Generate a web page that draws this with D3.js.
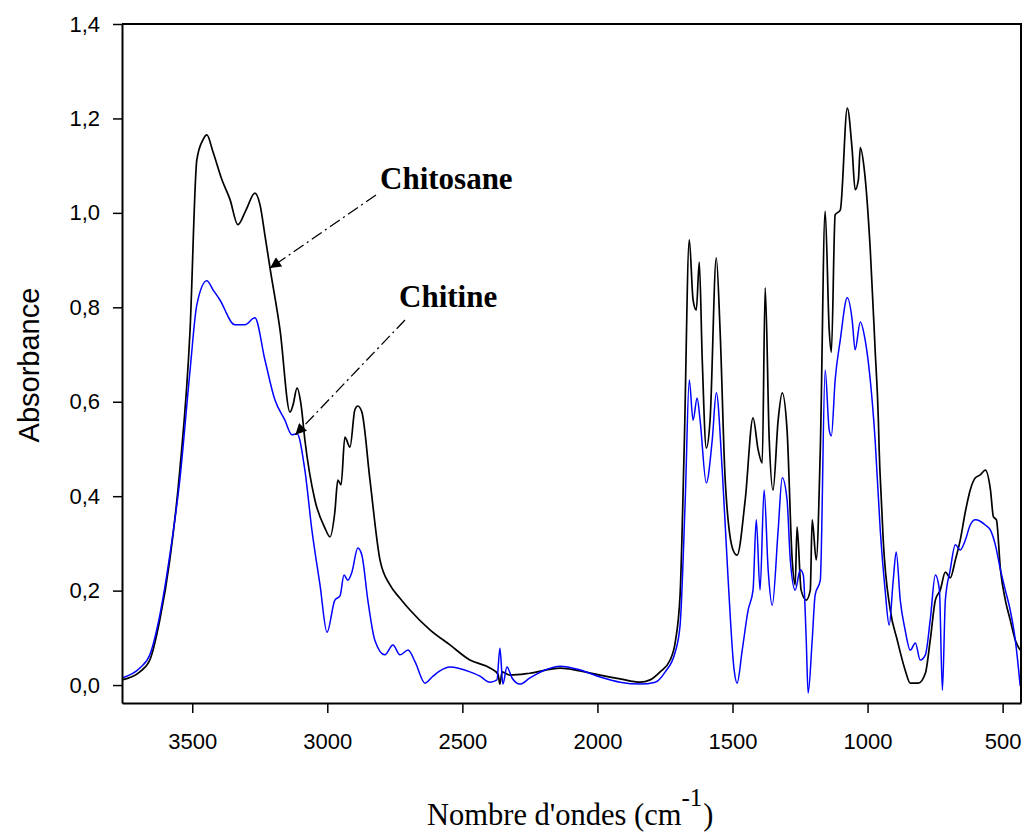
<!DOCTYPE html>
<html>
<head>
<meta charset="utf-8">
<script src="https://cdn.jsdelivr.net/npm/d3@7"></script>
<style>
  html, body { margin: 0; padding: 0; background: #fff; }
  svg { display: block; }
</style>
</head>
<body>
<svg id="chart" width="1027" height="832"></svg>
<script>
// FTIR spectra: wavenumber (cm-1) and absorbance for each sample
const chitosaneWavenumber = [3760,3694,3657,3620,3583,3546,3508,3483,3460,3446,3423,3390,3360,3331,3301,3268,3249,3231,3212,3175,3138,3127,3112,3097,3083,3046,3009,2990,2972,2961,2949,2935,2916,2898,2887,2872,2842,2805,2768,2731,2694,2620,2546,2472,2398,2368,2361,2353,2324,2250,2138,2064,1990,1916,1842,1805,1768,1731,1712,1694,1679,1660,1646,1634,1623,1612,1597,1583,1560,1546,1527,1498,1483,1453,1424,1405,1390,1379,1364,1350,1331,1316,1298,1279,1268,1261,1246,1227,1212,1205,1190,1175,1157,1142,1134,1120,1101,1075,1057,1046,1034,1027,1012,990,972,960,957,949,942,916,890,861,842,812,786,768,749,731,712,694,675,657,638,620,601,583,564,545,534,523,508,490,472,453,435];
const chitosaneAbsorbance = [0.011,0.028,0.053,0.138,0.265,0.455,0.752,1.112,1.155,1.165,1.129,1.07,1.028,0.975,1.006,1.042,1.017,0.953,0.883,0.752,0.578,0.593,0.629,0.593,0.519,0.392,0.333,0.314,0.367,0.434,0.424,0.525,0.504,0.583,0.591,0.578,0.434,0.265,0.212,0.184,0.159,0.117,0.085,0.053,0.036,0.023,0.002,0.028,0.021,0.025,0.036,0.03,0.021,0.013,0.006,0.011,0.028,0.053,0.091,0.191,0.498,0.943,0.816,0.794,0.896,0.689,0.502,0.561,0.905,0.752,0.434,0.286,0.275,0.392,0.566,0.498,0.47,0.841,0.519,0.413,0.561,0.619,0.54,0.265,0.212,0.335,0.201,0.18,0.201,0.35,0.265,0.498,1.004,0.752,0.705,0.996,1.006,1.222,1.133,1.049,1.07,1.138,1.091,0.922,0.71,0.561,0.498,0.392,0.307,0.159,0.095,0.032,0.004,0.004,0.025,0.095,0.18,0.201,0.239,0.227,0.265,0.307,0.367,0.413,0.439,0.445,0.455,0.413,0.356,0.35,0.244,0.18,0.138,0.095,0.074];

const chitineWavenumber = [3760,3694,3657,3620,3583,3546,3508,3483,3446,3423,3398,3342,3305,3268,3231,3194,3157,3131,3112,3083,3057,3027,3001,2972,2953,2938,2924,2909,2887,2872,2850,2824,2787,2757,2731,2701,2675,2638,2612,2583,2546,2472,2435,2398,2372,2361,2350,2335,2316,2287,2250,2194,2138,2064,1990,1916,1842,1786,1749,1712,1694,1675,1660,1646,1631,1620,1597,1575,1560,1538,1516,1494,1483,1464,1442,1424,1412,1398,1383,1368,1353,1331,1316,1298,1286,1268,1249,1238,1227,1220,1205,1194,1175,1157,1142,1134,1120,1101,1075,1057,1046,1027,1009,990,972,953,935,920,905,894,879,861,842,823,805,786,768,749,734,723,712,694,675,657,638,620,601,583,564,545,527,508,490,472,453,435];
const chitineAbsorbance = [0.015,0.036,0.064,0.148,0.275,0.434,0.667,0.805,0.856,0.837,0.816,0.763,0.763,0.778,0.689,0.604,0.561,0.53,0.532,0.455,0.328,0.212,0.112,0.18,0.189,0.233,0.222,0.239,0.29,0.275,0.18,0.095,0.064,0.085,0.064,0.074,0.049,0.004,0.017,0.03,0.038,0.028,0.019,0.006,0.011,0.078,0.002,0.038,0.015,0.002,0.015,0.032,0.04,0.032,0.017,0.006,0.002,0.006,0.028,0.07,0.127,0.392,0.646,0.561,0.608,0.561,0.428,0.519,0.619,0.455,0.222,0.032,0.004,0.074,0.159,0.201,0.35,0.201,0.413,0.244,0.169,0.328,0.439,0.392,0.265,0.201,0.244,0.233,0.095,-0.017,0.095,0.191,0.222,0.667,0.54,0.528,0.646,0.731,0.82,0.773,0.71,0.769,0.731,0.646,0.519,0.328,0.201,0.127,0.222,0.282,0.18,0.117,0.074,0.089,0.053,0.064,0.138,0.233,0.201,-0.011,0.18,0.244,0.297,0.286,0.307,0.339,0.35,0.347,0.339,0.328,0.297,0.244,0.201,0.159,0.095,-0.002];

const xTickValues = [3500, 3000, 2500, 2000, 1500, 1000, 500];
const yTickValues = [0, 0.2, 0.4, 0.6, 0.8, 1.0, 1.2, 1.4];

const series = [
  { name: "Chitosane", wn: chitosaneWavenumber, abs: chitosaneAbsorbance, color: "#000000", width: 1.7 },
  { name: "Chitine", wn: chitineWavenumber, abs: chitineAbsorbance, color: "#0000ff", width: 1.5 }
];

const svg = d3.select("#chart");
const plotLeft = 122, plotRight = 1021, plotTop = 24, plotBottom = 703;

const x = d3.scaleLinear().domain([3760, 432]).range([plotLeft, plotRight]);
const y = d3.scaleLinear().domain([-0.038, 1.4]).range([plotBottom, plotTop]);

const defs = svg.append("defs");
defs.append("clipPath").attr("id", "plot-clip")
  .append("rect").attr("x", plotLeft).attr("y", plotTop)
  .attr("width", plotRight - plotLeft).attr("height", plotBottom - plotTop);

// spectra
const line = d3.line().x(d => x(d[0])).y(d => y(d[1])).curve(d3.curveMonotoneX);
const plot = svg.append("g").attr("clip-path", "url(#plot-clip)");
series.forEach(s => {
  const pts = s.wn.map((w, i) => [w, s.abs[i]]);
  plot.append("path")
    .datum(pts)
    .attr("fill", "none")
    .attr("stroke", s.color)
    .attr("stroke-width", s.width)
    .attr("stroke-linejoin", "round")
    .attr("d", line);
});

// axes
const commaFmt = v => d3.format(".1f")(v).replace(".", ",");
const yAxis = svg.append("g").attr("transform", `translate(${plotLeft},0)`)
  .call(d3.axisLeft(y).tickValues(yTickValues).tickFormat(commaFmt)
    .tickSize(9).tickSizeOuter(0).tickPadding(13));
const xAxis = svg.append("g").attr("transform", `translate(0,${plotBottom})`)
  .call(d3.axisBottom(x).tickValues(xTickValues).tickFormat(d3.format("d"))
    .tickSize(10).tickSizeOuter(0).tickPadding(20));

[yAxis, xAxis].forEach(g => {
  g.selectAll(".domain").attr("stroke", "#000").attr("stroke-width", 2);
  g.selectAll(".tick line").attr("stroke", "#000").attr("stroke-width", 1.5);
  g.selectAll(".tick text")
    .attr("fill", "#000")
    .style("font-family", "Arial, 'Liberation Sans', sans-serif")
    .style("font-size", "22px");
});

// top and right frame
svg.append("path")
  .attr("d", `M${plotLeft},${plotTop}H${plotRight}V${plotBottom}`)
  .attr("fill", "none").attr("stroke", "#000").attr("stroke-width", 2);

// axis titles
svg.append("text")
  .attr("transform", "translate(39,365) rotate(-90)")
  .attr("text-anchor", "middle")
  .style("font-family", "Arial, 'Liberation Sans', sans-serif")
  .style("font-size", "29px")
  .text("Absorbance");

const xTitle = svg.append("text")
  .attr("x", 427).attr("y", 825)
  .style("font-family", "'Times New Roman', 'Liberation Serif', serif")
  .style("font-size", "30.5px");
xTitle.append("tspan").text("Nombre d'ondes (cm");
xTitle.append("tspan").attr("dy", -19).style("font-size", "25px").text("-1");
xTitle.append("tspan").attr("dy", 19).attr("dx", 1).text(")");

// annotations with dash-dot arrows
defs.append("marker").attr("id", "arrowhead")
  .attr("viewBox", "0 0 10 10").attr("refX", 10).attr("refY", 5)
  .attr("markerWidth", 16).attr("markerHeight", 11)
  .attr("markerUnits", "userSpaceOnUse")
  .attr("orient", "auto")
  .append("path").attr("d", "M0,0L10,5L0,10Z").attr("fill", "#000");

const labels = [
  { text: "Chitosane", lx: 380, ly: 189, from: [376, 195], toWn: 3212, toAbs: 0.883 },
  { text: "Chitine", lx: 399, ly: 307, from: [405, 320], toWn: 3118, toAbs: 0.53 }
];
labels.forEach(a => {
  svg.append("text")
    .attr("x", a.lx).attr("y", a.ly)
    .style("font-family", "'Times New Roman', 'Liberation Serif', serif")
    .style("font-size", "31px").style("font-weight", "bold")
    .text(a.text);
  svg.append("line")
    .attr("x1", a.from[0]).attr("y1", a.from[1])
    .attr("x2", x(a.toWn)).attr("y2", y(a.toAbs))
    .attr("stroke", "#000").attr("stroke-width", 1.3)
    .attr("stroke-dasharray", "12,4,2,4")
    .attr("marker-end", "url(#arrowhead)");
});
</script>
</body>
</html>
